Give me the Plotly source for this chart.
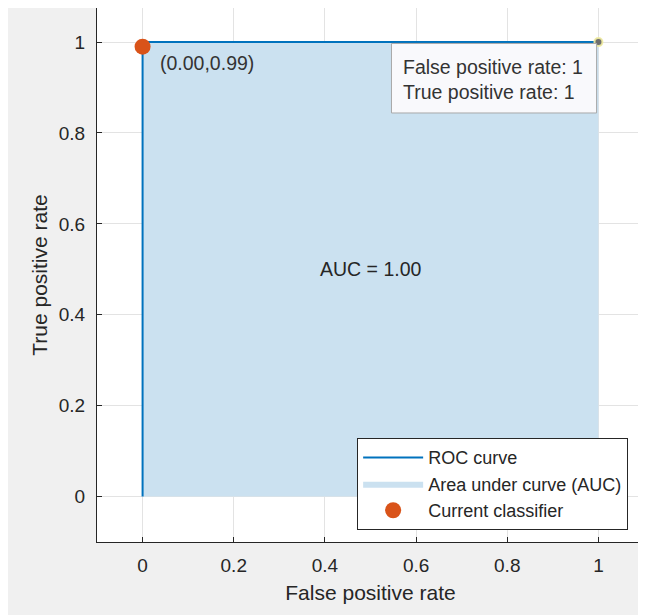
import plotly.graph_objects as go

# ---- data ----
fpr = [0.0, 0.0, 0.01, 1.0]
tpr = [0.0, 0.99, 1.0, 1.0]
classifier_fpr = [0.0]
classifier_tpr = [0.99]
classifier_label = "(0.00,0.99)"
tip_fpr = [1.0]
tip_tpr = [1.0]
auc_value = 1.00
x_ticks = [0, 0.2, 0.4, 0.6, 0.8, 1]
y_ticks = [0, 0.2, 0.4, 0.6, 0.8, 1]

FONT = "Liberation Sans, Arial, Helvetica, sans-serif"
TXT = "#262626"

fig = go.Figure()

fig.add_trace(go.Scatter(
    x=fpr, y=tpr, mode="lines", fill="tozeroy",
    fillcolor="rgb(203,225,240)", line=dict(width=0, color="rgba(0,0,0,0)"),
    name="Area under curve (AUC)", legendgroup="b", legendrank=2, hoverinfo="skip"))
fig.add_trace(go.Scatter(
    x=fpr, y=tpr, mode="lines", line=dict(color="#0072BD", width=2),
    name="ROC curve", legendgroup="a", legendrank=1))
fig.add_trace(go.Scatter(
    x=classifier_fpr, y=classifier_tpr, mode="markers",
    marker=dict(color="#D95319", size=16), name="Current classifier",
    legendgroup="c", legendrank=3))
fig.add_trace(go.Scatter(
    x=tip_fpr, y=tip_tpr, mode="markers",
    marker=dict(color="#6e6e6e", size=8, line=dict(color="rgba(240,235,160,0.9)", width=2)),
    showlegend=False))

# data tip box
fig.add_shape(type="rect", xref="x", yref="y", x0=0.546, x1=0.996, y0=0.844, y1=0.997,
              line=dict(color="#a8a8a8", width=1), fillcolor="#f9f9fc", layer="above")
fig.add_annotation(x=0.566, y=0.945, xref="x", yref="y", xanchor="left", yanchor="middle",
                   text=f"False positive rate: {tip_fpr[0]:g}", showarrow=False,
                   font=dict(family=FONT, size=19.5, color="#333333"))
fig.add_annotation(x=0.566, y=0.891, xref="x", yref="y", xanchor="left", yanchor="middle",
                   text=f"True positive rate: {tip_tpr[0]:g}", showarrow=False,
                   font=dict(family=FONT, size=19.5, color="#333333"))

fig.add_annotation(x=classifier_fpr[0], y=classifier_tpr[0], xref="x", yref="y",
                   xanchor="left", yanchor="middle", xshift=15, yshift=-16,
                   text=classifier_label, showarrow=False,
                   font=dict(family=FONT, size=19.5, color="#333333"))
fig.add_annotation(x=0.5, y=0.5, xref="x", yref="y", text=f"AUC = {auc_value:.2f}",
                   showarrow=False, font=dict(family=FONT, size=19.5, color=TXT))

axis_common = dict(
    showgrid=True, gridcolor="#e3e3e3", gridwidth=1, zeroline=False,
    showline=True, linecolor="#262626", linewidth=1,
    ticks="inside", ticklen=5, tickcolor="#262626",
    tickfont=dict(family=FONT, size=19, color=TXT),
)
fig.update_xaxes(range=[-0.1, 1.1], tickvals=x_ticks, ticktext=[f"{v:g}" for v in x_ticks],
                 title=dict(text="False positive rate", font=dict(family=FONT, size=21, color=TXT), standoff=10),
                 ticklabelstandoff=6, **axis_common)
fig.update_yaxes(range=[-0.1, 1.075], tickvals=y_ticks, ticktext=[f"{v:g}" for v in y_ticks],
                 title=dict(text="True positive rate", font=dict(family=FONT, size=21, color=TXT), standoff=5),
                 ticklabelstandoff=7, **axis_common)

fig.update_layout(
    width=646, height=615,
    margin=dict(l=89, r=10, t=0, b=81),
    paper_bgcolor="#f0f0f0", plot_bgcolor="white",
    font=dict(family=FONT, size=18, color=TXT),
    legend=dict(x=0.971, y=0.022, xanchor="right", yanchor="bottom",
                bgcolor="white", bordercolor="#262626", borderwidth=1,
                font=dict(family=FONT, size=18, color=TXT),
                itemwidth=60, tracegroupgap=0, traceorder="normal"),
    showlegend=True,
)

fig.write_html("out.html")
